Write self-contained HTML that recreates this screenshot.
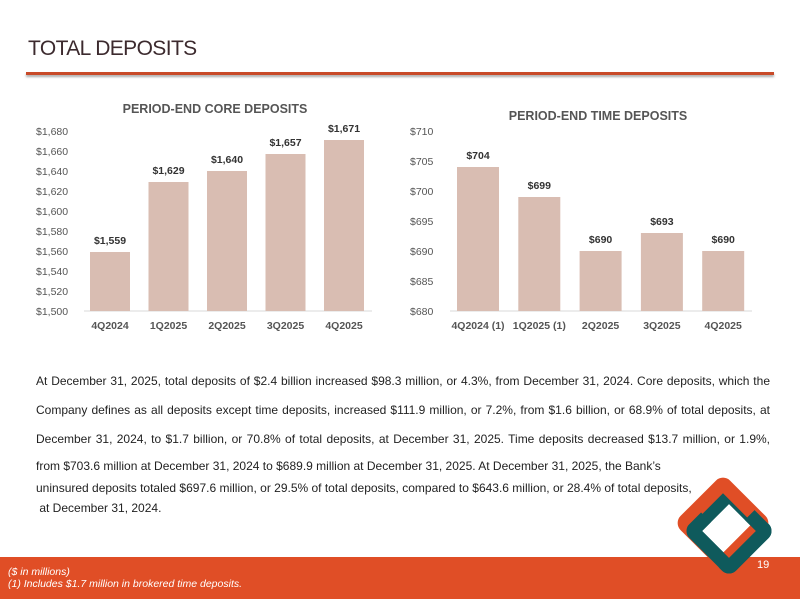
<!DOCTYPE html>
<html><head><meta charset="utf-8"><style>
body{margin:0;width:800px;height:599px;position:relative;overflow:hidden;background:#fff;font-family:"Liberation Sans",Arial,sans-serif}
.title{position:absolute;left:28px;top:37px;font-size:21px;color:#3c2a2e;letter-spacing:-0.6px}
.rule{position:absolute;left:26px;top:72px;width:748px;height:3px;background:#c84a28;box-shadow:0 2px 2px #aaa}
.p{position:absolute;left:36px;width:734px;font-size:12px;color:#222;text-align:justify;text-align-last:justify}
.footer{position:absolute;left:0;top:557px;width:800px;height:42px;background:#e04e26}
.ft{position:absolute;left:8px;font-size:10.5px;font-style:italic;color:#fff}
.ring{position:absolute;border-radius:10px;transform:rotate(45deg);box-sizing:border-box}
</style></head><body>
<div class="title">TOTAL DEPOSITS</div>
<div class="rule"></div>
<svg id="c1" width="800" height="360" style="position:absolute;left:0;top:0"></svg>
<div class="p" style="top:374px">At December 31, 2025, total deposits of $2.4 billion increased $98.3 million, or 4.3%, from December 31, 2024. Core deposits, which the</div>
<div class="p" style="top:403px">Company defines as all deposits except time deposits, increased $111.9 million, or 7.2%, from $1.6 billion, or 68.9% of total deposits, at</div>
<div class="p" style="top:432px">December 31, 2024, to $1.7 billion, or 70.8% of total deposits, at December 31, 2025. Time deposits decreased $13.7 million, or 1.9%,</div>
<div class="p" style="top:459px;text-align-last:left">from $703.6 million at December 31, 2024 to $689.9 million at December 31, 2025. At December 31, 2025, the Bank’s</div>
<div class="p" style="top:481px;text-align-last:left">uninsured deposits totaled $697.6 million, or 29.5% of total deposits, compared to $643.6 million, or 28.4% of total deposits,</div>
<div class="p" style="top:501px;text-align-last:left">&nbsp;at December 31, 2024.</div>
<div class="footer">
<div class="ft" style="top:9px">($ in millions)</div>
<div class="ft" style="top:21px">(1) Includes $1.7 million in brokered time deposits.</div>
</div>
<div style="position:absolute;left:0;top:0">
<div class="ring" style="left:696px;top:498px;width:66px;height:66px;border:14px solid #0f5a5c"></div>
<div class="ring" style="left:688px;top:488px;width:70px;height:70px;border:14px solid #e04e26"></div>
<div class="ring" style="left:696px;top:498px;width:66px;height:66px;border:14px solid #0f5a5c;clip-path:polygon(55% 0,100% 0,100% 100%,0 100%,0 60%,55% 60%)"></div>
</div>
<div style="position:absolute;left:757px;top:559px;font-size:11px;color:#fff">19</div>
<script>
const coreCats=["4Q2024","1Q2025","2Q2025","3Q2025","4Q2025"];
const coreVals=[1559,1629,1640,1657,1671];
const coreTicks=[1500,1520,1540,1560,1580,1600,1620,1640,1660,1680];
const timeCats=["4Q2024 (1)","1Q2025 (1)","2Q2025","3Q2025","4Q2025"];
const timeVals=[704,699,690,693,690];
const timeTicks=[680,685,690,695,700,705,710];
const NS="http://www.w3.org/2000/svg";
const svg=document.getElementById('c1');
function mk(t,a,txt){const e=document.createElementNS(NS,t);for(const k in a)e.setAttribute(k,a[k]);if(txt!=null)e.textContent=txt;svg.appendChild(e);return e;}
function chart(o){
 const y=v=>o.y0-(v-o.min)/(o.max-o.min)*(o.y0-o.y1);
 const x=i=>o.x0+o.step*i;
 let t=mk('text',{x:o.tx,y:o.ty,'font-size':12.5,'font-weight':'bold',fill:'#555','text-anchor':'middle'},o.title);
 
 
 o.ticks.forEach(v=>{let e=mk('text',{x:o.lx,y:y(v)+4,'font-size':10.5,fill:'#555'},'$'+v.toLocaleString('en-US'));
  
  });
 mk('line',{x1:o.ax0,x2:o.ax1,y1:o.y0,y2:o.y0,stroke:'#d9d9d9'});
 o.vals.forEach((v,i)=>{
  let r=mk('rect',{x:x(i)-o.bw/2,y:y(v),width:o.bw,height:o.y0-y(v),fill:'#d9bdb2'});
  
  
  let l=mk('text',{x:x(i),y:y(v)-8,'font-size':10.5,'font-weight':'bold',fill:'#333','text-anchor':'middle'},'$'+v.toLocaleString('en-US'));
  
  
  let c=mk('text',{x:x(i),y:o.y0+18,'font-size':10.5,'font-weight':'bold',fill:'#555','text-anchor':'middle'},o.cats[i]);
  
  
 });
}
chart({name:'core',title:'PERIOD-END CORE DEPOSITS',tx:215,ty:113,cats:coreCats,vals:coreVals,ticks:coreTicks,min:1500,max:1680,y0:311,y1:131,x0:110,step:58.5,bw:40,lx:36,ax0:84,ax1:372});
chart({name:'time',title:'PERIOD-END TIME DEPOSITS',tx:598,ty:120,cats:timeCats,vals:timeVals,ticks:timeTicks,min:680,max:710,y0:311,y1:131,x0:478,step:61.3,bw:42,lx:410,ax0:450,ax1:752});
</script>
</body></html>
